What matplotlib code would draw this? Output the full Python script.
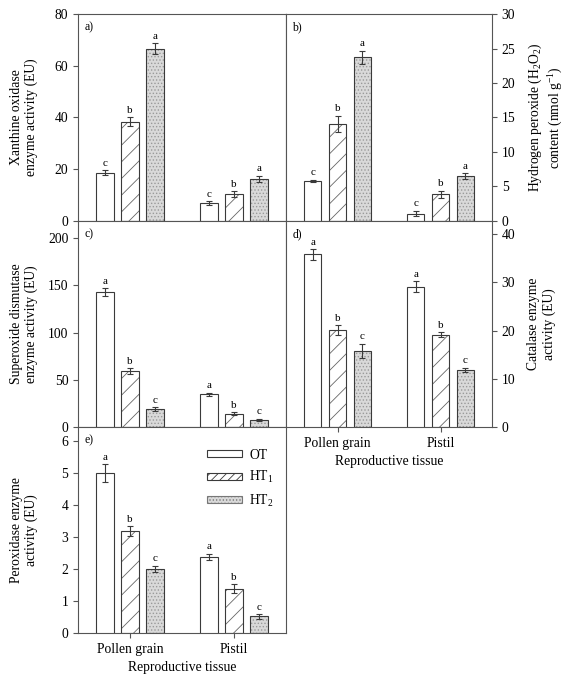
import numpy as np
import matplotlib
matplotlib.use("Agg")
import matplotlib.pyplot as plt
from matplotlib.patches import Patch

plt.rcParams['font.family'] = ['Liberation Serif', 'DejaVu Serif']
plt.rcParams['mathtext.fontset'] = 'custom'
plt.rcParams['mathtext.rm'] = 'Liberation Serif'
plt.rcParams['mathtext.it'] = 'Liberation Serif:italic'
plt.rcParams['hatch.linewidth'] = 0.6

tissues = ["Pollen grain", "Pistil"]
treatments = ["OT", "HT$_1$", "HT$_2$"]

# values [treatment][tissue]
xo_vals = [[18.6, 6.8], [38.3, 10.3], [66.5, 16.3]]
xo_err = [[1.0, 0.8], [1.7, 1.2], [2.1, 1.1]]
xo_let = [["c", "c"], ["b", "b"], ["a", "a"]]

h2o2_vals = [[5.8, 1.06], [14.1, 3.9], [23.7, 6.5]]
h2o2_err = [[0.2, 0.4], [1.15, 0.5], [1.0, 0.4]]
h2o2_let = [["c", "c"], ["b", "b"], ["a", "a"]]

sod_vals = [[143, 34.7], [59, 14.2], [18.8, 7.8]]
sod_err = [[3.9, 1.5], [3.0, 1.5], [2.0, 1.0]]
sod_let = [["a", "a"], ["b", "b"], ["c", "c"]]

cat_vals = [[35.8, 29.1], [20.1, 19.1], [15.8, 11.8]]
cat_err = [[1.1, 1.1], [1.0, 0.5], [1.45, 0.5]]
cat_let = [["a", "a"], ["b", "b"], ["c", "c"]]

pod_vals = [[5.0, 2.38], [3.2, 1.39], [2.0, 0.52]]
pod_err = [[0.28, 0.1], [0.15, 0.14], [0.1, 0.07]]
pod_let = [["a", "a"], ["b", "b"], ["c", "c"]]

W, H = 573, 682
fig = plt.figure(figsize=(W / 100, H / 100), dpi=100)

def ax_at(x0, y0, x1, y1):
    return fig.add_axes([x0 / W, 1 - y1 / H, (x1 - x0) / W, (y1 - y0) / H])

axA = ax_at(78, 14, 286, 221)
axB = ax_at(286, 14, 492, 221)
axC = ax_at(78, 221, 286, 427)
axD = ax_at(286, 221, 492, 427)
axE = ax_at(78, 427, 286, 633)

edge = '#3a3a3a'
styles = [
    dict(face='white', hatch=None, hcol=None),
    dict(face='white', hatch='//', hcol='#666666'),
    dict(face='#d9d9d9', hatch='.....', hcol='#9a9a9a'),
]
bw = 0.165
offs = [-0.24, 0.0, 0.24]
x = np.arange(len(tissues))

def draw(ax, vals, errs, lets, ylim, yticks, label, panel, right=False, xlabels=False, fs_let=8):
    ymax = ylim[1]
    for i in range(3):
        st = styles[i]
        pos = x + offs[i]
        if st['hatch']:
            ax.bar(pos, vals[i], bw, color=st['face'], hatch=st['hatch'],
                   edgecolor=st['hcol'], linewidth=0, zorder=2)
            ax.bar(pos, vals[i], bw, fill=False, edgecolor=edge, linewidth=0.8, zorder=3)
        else:
            ax.bar(pos, vals[i], bw, color=st['face'], edgecolor=edge, linewidth=0.8, zorder=3)
        ax.errorbar(pos, vals[i], yerr=errs[i], fmt='none', ecolor=edge,
                    elinewidth=0.8, capsize=2.5, capthick=0.8, zorder=4)
        for j in range(len(tissues)):
            ax.text(pos[j], vals[i][j] + errs[i][j] + ymax * 0.012, lets[i][j],
                    ha='center', va='bottom', fontsize=fs_let)
    ax.set_xlim(-0.5, 1.5)
    ax.set_ylim(*ylim)
    ax.set_yticks(yticks)
    ax.set_xticks(x)
    for s in ax.spines.values():
        s.set_color('#555555')
        s.set_linewidth(0.8)
    ax.tick_params(colors='#555555', labelcolor='black', labelsize=9.8,
                   direction='out', length=3.5, width=0.8)
    if xlabels:
        ax.set_xticklabels(tissues, fontsize=9.8)
        ax.set_xlabel("Reproductive tissue", fontsize=9.8, labelpad=4)
    else:
        ax.set_xticklabels([])
    if right:
        ax.yaxis.tick_right()
        ax.yaxis.set_label_position('right')
        ax.tick_params(axis='y', left=False, right=True)
    ax.set_ylabel(label, fontsize=9.8, linespacing=1.2)
    ax.text(0.03, 0.965, panel, transform=ax.transAxes, ha='left', va='top', fontsize=8.5)

draw(axA, xo_vals, xo_err, xo_let, (0, 80), [0, 20, 40, 60, 80],
     "Xanthine oxidase\nenzyme activity (EU)", "a)")
draw(axB, h2o2_vals, h2o2_err, h2o2_let, (0, 30), [0, 5, 10, 15, 20, 25, 30],
     "Hydrogen peroxide (H$_2$O$_2$)\ncontent (nmol g$^{-1}$)", "b)", right=True)
draw(axC, sod_vals, sod_err, sod_let, (0, 218), [0, 50, 100, 150, 200],
     "Superoxide dismutase\nenzyme activity (EU)", "c)")
draw(axD, cat_vals, cat_err, cat_let, (0, 42.7), [0, 10, 20, 30, 40],
     "Catalase enzyme\nactivity (EU)", "d)", right=True, xlabels=True)
draw(axE, pod_vals, pod_err, pod_let, (0, 6.45), [0, 1, 2, 3, 4, 5, 6],
     "Peroxidase enzyme\nactivity (EU)", "e)", xlabels=True)

axA.yaxis.set_label_coords(-0.19, 0.5)
axC.yaxis.set_label_coords(-0.19, 0.5)
axE.yaxis.set_label_coords(-0.19, 0.5)
axB.yaxis.set_label_coords(1.17, 0.5)
axD.yaxis.set_label_coords(1.17, 0.5)

handles = [
    Patch(facecolor='white', edgecolor=edge, linewidth=0.8),
    Patch(facecolor='white', edgecolor=edge, hatch='////', linewidth=0.8),
    Patch(facecolor='#d9d9d9', edgecolor='#777777', hatch='.....', linewidth=0.8),
]
axE.legend(handles, treatments, loc='upper right', bbox_to_anchor=(1.0, 0.955),
           frameon=False, fontsize=9.8, handlelength=2.6, handleheight=0.4,
           labelspacing=0.55, handletextpad=0.5)

fig.savefig("out.png", dpi=100)
